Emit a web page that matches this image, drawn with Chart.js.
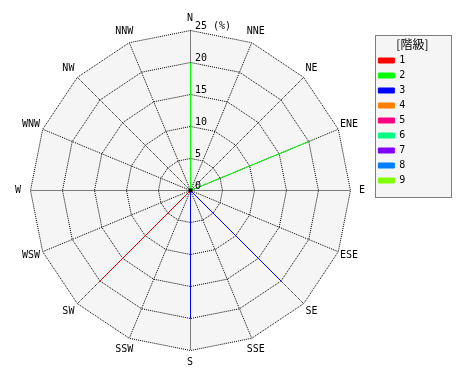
<!DOCTYPE html>
<html><head><meta charset="utf-8">
<script src="https://cdn.jsdelivr.net/npm/chart.js@4/dist/chart.umd.min.js"></script>
<style>html,body{margin:0;padding:0;background:#fff}</style>
</head><body>
<canvas id="c" width="470" height="380"></canvas>
<script>
const directions = ['N','NNE','NE','ENE','E','ESE','SE','SSE','S','SSW','SW','WSW','W','WNW','NW','NNW'];
const classLabels = ['1','2','3','4','5','6','7','8','9'];
const classColors = ['#ff0000','#00ff00','#0000ff','#ff8000','#ff0080','#00ff80','#8000ff','#0080ff','#80ff00'];
//                 N  NNE NE ENE E ESE SE SSE S SSW SW WSW W WNW NW NNW
const class1 = [   0, 0, 0, 0,  0, 0,  0, 0,  0, 0, 20, 0,  0, 0,  0, 0];
const class2 = [  20, 0, 0, 20, 0, 0,  0, 0,  0, 0,  0, 0,  0, 0,  0, 0];
const class3 = [   0, 0, 0, 0,  0, 0, 20, 0, 20, 0,  0, 0,  0, 0,  0, 0];
const class4 = [   0, 0, 0, 0,  0, 0,  0, 0,  0, 0,  0, 0,  0, 0,  0, 0];
const class5 = [   0, 0, 0, 0,  0, 0,  0, 0,  0, 0,  0, 0,  0, 0,  0, 0];
const class6 = [   0, 0, 0, 0,  0, 0,  0, 0,  0, 0,  0, 0,  0, 0,  0, 0];
const class7 = [   0, 0, 0, 0,  0, 0,  0, 0,  0, 0,  0, 0,  0, 0,  0, 0];
const class8 = [   0, 0, 0, 0,  0, 0,  0, 0,  0, 0,  0, 0,  0, 0,  0, 0];
const class9 = [   0, 0, 0, 0,  0, 0,  0, 0,  0, 0,  0, 0,  0, 0,  0, 0];
const tickValues = [0, 5, 10, 15, 20, 25];
const unitLabel = '(%)';
const legendTitle = '[階級]';

const seriesValues = [class1,class2,class3,class4,class5,class6,class7,class8,class9];
const MONO = '"DejaVu Sans Mono", "Liberation Mono", monospace';

// One radar dataset per spoke: the centre (0) in the previous direction and the value
// in its own direction, everything else blank, so each spoke is a single segment.
function buildDatasets() {
  const out = [];
  seriesValues.forEach((vals, i) => {
    const n = vals.length;
    const spokes = [];
    vals.forEach((v, j) => {
      if (v !== 0) {
        const d = new Array(n).fill(null);
        d[(j - 1 + n) % n] = 0;
        d[j] = v;
        spokes.push(d);
      }
    });
    if (!spokes.length) spokes.push(vals.slice());
    spokes.forEach((d, k) => out.push({
      label: classLabels[i],
      data: d,
      inLegend: k === 0,
      borderColor: classColors[i],
      backgroundColor: classColors[i],
      borderWidth: 1,
      fill: false,
      spanGaps: false,
      pointRadius: 0,
      tension: 0
    }));
  });
  return out;
}

const labelPlugin = {
  id: 'polarLabels',
  afterDraw(chart) {
    const s = chart.scales.r, ctx = chart.ctx;
    ctx.save();
    ctx.font = '10px ' + MONO;
    ctx.fillStyle = '#000';
    ctx.textAlign = 'center';
    ctx.textBaseline = 'middle';
    directions.forEach((d, i) => {
      const p = s.getPointPosition(i, s.drawingArea + 12);
      ctx.fillText(d, p.x, p.y);
    });
    ctx.textAlign = 'left';
    tickValues.forEach((v, i) => {
      const d = s.getDistanceFromCenterForValue(v);
      const t = (i === tickValues.length - 1) ? v + ' ' + unitLabel : String(v);
      ctx.fillText(t, Math.round(s.xCenter) + 5, Math.round(s.yCenter - d) - 4);
    });
    ctx.beginPath();
    ctx.arc(s.xCenter + 0.5, s.yCenter + 0.5, 2, 0, Math.PI * 2);
    ctx.fill();
    ctx.restore();
  }
};

// Legend frame + half-pixel alignment of the polar grid and spokes.
const framePlugin = {
  id: 'frame',
  beforeDraw(chart) {
    const lg = chart.legend, ctx = chart.ctx;
    if (lg && lg.legendHitBoxes && lg.legendHitBoxes.length) {
      const hb = lg.legendHitBoxes;
      const x0 = 375.5, x1 = 451.5;
      const y0 = 35.5, y1 = Math.round(hb[hb.length-1].top + hb[hb.length-1].height / 2) + 17.5;
      ctx.save();
      ctx.fillStyle = '#f5f5f5';
      ctx.fillRect(x0, y0, x1 - x0, y1 - y0);
      ctx.strokeStyle = '#000';
      ctx.lineWidth = 1;
      ctx.setLineDash([1, 1]);
      ctx.strokeRect(x0, y0, x1 - x0, y1 - y0);
      ctx.restore();
    }
    ctx.save();
    ctx.translate(0.5, 0.5);
  },
  afterDatasetsDraw(chart) {
    chart.ctx.restore();
  }
};

new Chart(document.getElementById('c'), {
  type: 'radar',
  data: { labels: directions, datasets: buildDatasets() },
  options: {
    responsive: false,
    animation: false,
    devicePixelRatio: 1,
    layout: { padding: { left: 8, right: 19, top: 13, bottom: 12 } },
    scales: {
      r: {
        min: 0, max: 25,
        backgroundColor: '#f5f5f5',
        ticks: { stepSize: 5, display: false },
        grid: { color: '#000', lineWidth: 1 },
        border: { dash: [1, 1] },
        angleLines: { color: '#000', lineWidth: 1, borderDash: [1, 1] },
        pointLabels: { color: 'rgba(0,0,0,0)', font: { family: MONO, size: 10 }, padding: 5 }
      }
    },
    plugins: {
      tooltip: { enabled: false },
      legend: {
        position: 'right',
        align: 'start',
        title: { display: true, text: legendTitle, color: '#000', font: { family: '"Noto Sans CJK JP"', size: 12, lineHeight: 1 }, padding: { top: 25, bottom: 0 } },
        labels: {
          boxWidth: 16, boxHeight: 5, color: '#000', font: { family: MONO, size: 10 }, padding: 5,
          filter: (item, data) => data.datasets[item.datasetIndex].inLegend,
          generateLabels(chart) {
            return Chart.defaults.plugins.legend.labels.generateLabels(chart).map(it => ({ ...it, text: it.text + '      ' }));
          }
        }
      }
    }
  },
  plugins: [labelPlugin, framePlugin]
});
</script>
</body></html>
